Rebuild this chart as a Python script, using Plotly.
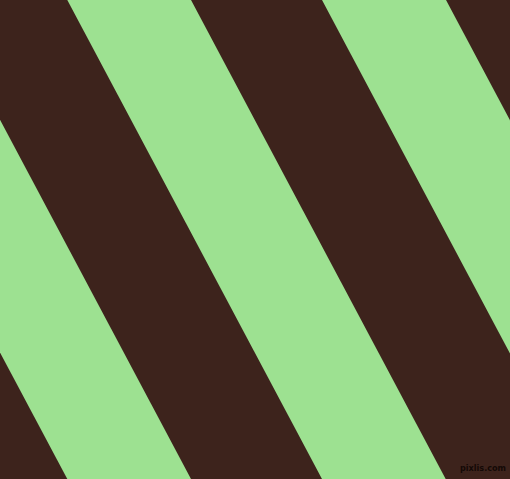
import plotly.graph_objects as go

# Diagonal stripe pattern: each green band is bounded by two edges,
# given by their x-position where they cross the top edge (y = 0).
band_left_top = [-187.4, 67.3, 322.0]
band_right_top = [-63.7, 191.0, 446.0]
# horizontal shift of every edge between the top (y=0) and bottom (y=479)
edge_shift = 254.7

W, H = 510, 479
brown = "#3D231C"
green = "#9DE191"

fig = go.Figure()
for a, b in zip(band_left_top, band_right_top):
    fig.add_trace(go.Scatter(
        x=[a, b, b + edge_shift, a + edge_shift, a],
        y=[0, 0, H, H, 0],
        mode="lines", fill="toself", fillcolor=green,
        line=dict(width=0, color=green), hoverinfo="skip", showlegend=False,
    ))

fig.add_annotation(
    text="<b>pixlis.com</b>", x=508, y=468, xref="x", yref="y",
    xanchor="right", yanchor="middle", showarrow=False,
    font=dict(family="DejaVu Sans Condensed, DejaVu Sans", size=9, color="#140906"),
)

fig.update_layout(
    width=W, height=H, margin=dict(l=0, r=0, t=0, b=0),
    paper_bgcolor=brown, plot_bgcolor=brown,
    xaxis=dict(range=[0, W], visible=False, fixedrange=True),
    yaxis=dict(range=[H, 0], visible=False, fixedrange=True),
)

fig.write_html("out.html", config={"displayModeBar": False},
               post_script="document.body.style.margin='0';")
